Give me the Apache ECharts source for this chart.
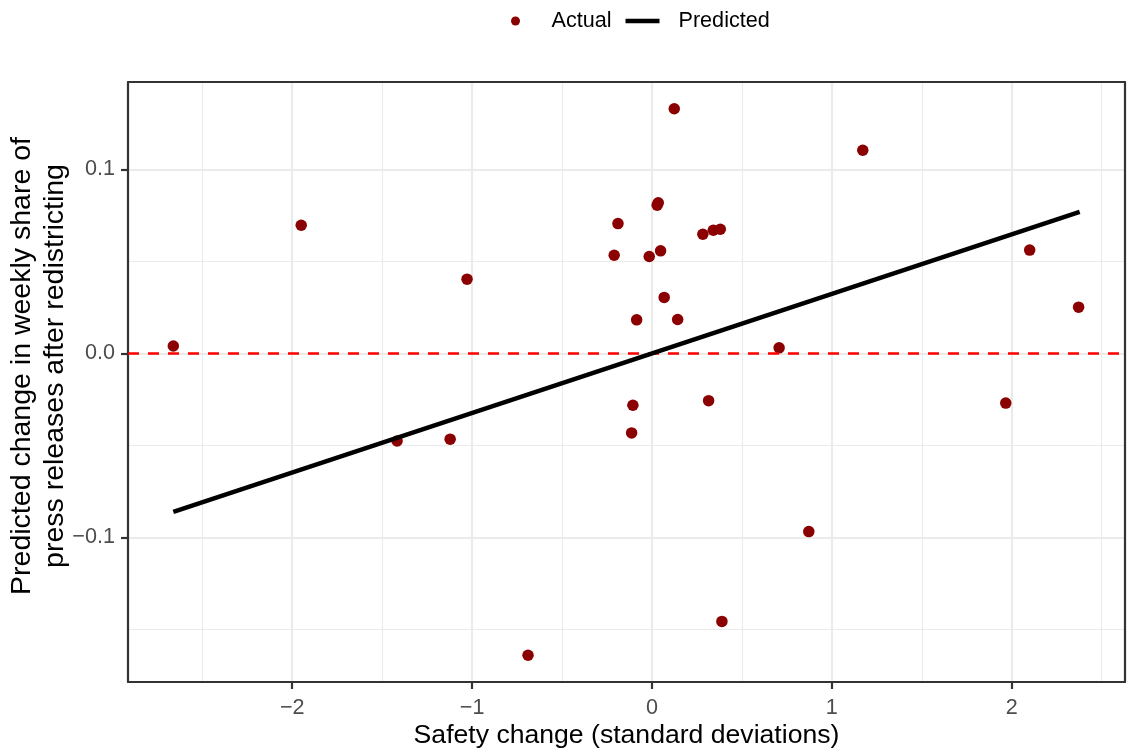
<!DOCTYPE html>
<html>
<head>
<meta charset="utf-8">
<title>Safety change vs predicted change in press releases</title>
<script src="https://cdn.jsdelivr.net/npm/echarts@6/dist/echarts.min.js"></script>
<style>
  html, body { margin: 0; padding: 0; background: #ffffff; }
  #chart { width: 1128px; height: 750px; }
</style>
</head>
<body>
<div id="chart"></div>
<script>
// Observed districts: safety change (SD) and change in weekly share of press releases
const actualX = [-2.661, -1.950, -1.028, -1.417, -1.122, -0.689, -0.210, -0.189, 0.124, 0.029,
                 0.035, 0.283, 0.341, 0.380, -0.015, 0.048, 0.068, -0.085, 0.143, 0.707,
                 -0.106, -0.113, 0.315, 0.872, 0.389, 1.172, 1.967, 2.100, 2.372];
const actualY = [0.0040, 0.0696, 0.0403, -0.0476, -0.0466, -0.1640, 0.0533, 0.0705, 0.1329, 0.0805,
                 0.0818, 0.0647, 0.0669, 0.0674, 0.0526, 0.0557, 0.0304, 0.0182, 0.0184, 0.0030,
                 -0.0282, -0.0432, -0.0257, -0.0968, -0.1456, 0.1103, -0.0270, 0.0561, 0.0251];

// Fitted line, at the smallest and largest safety change
const predictedX = [-2.661, 2.378];
const predictedY = [-0.0861, 0.0768];

// Axis extents and labels
const xRange = [-2.913, 2.630];
const yRange = [-0.1785, 0.1474];
const xTitle = 'Safety change (standard deviations)';
const yTitle = 'Predicted change in weekly share of\npress releases after redistricting';
const seriesNames = ['Actual', 'Predicted'];

const FONT = 'Liberation Sans, Arial, Helvetica, sans-serif';
const MINUS = '\u2212';
const FRAME = { color: '#333333', width: 2.2 };
// thin horizontal bar inside a 34x9 box, used as the legend key of the fitted line
const LINE_KEY = 'path://M0,0 M0,2.25 L34,2.25 L34,6.75 L0,6.75 Z M34,9';

const zip = (xs, ys) => xs.map((x, i) => [x, ys[i]]);
const isStep = (v, step) => Math.abs(v / step - Math.round(v / step)) < 1e-6;

// axis used only to draw one side of the panel frame above the grid lines
const frameAxis = (position, range) => ({
  type: 'value', position, min: range[0], max: range[1], z: 5,
  axisLine: { show: true, onZero: false, lineStyle: FRAME },
  axisTick: { show: false }, axisLabel: { show: false },
  splitLine: { show: false }, minorSplitLine: { show: false }
});

const chart = echarts.init(document.getElementById('chart'), null, { renderer: 'canvas' });

chart.setOption({
  backgroundColor: '#ffffff',
  animation: false,
  textStyle: { fontFamily: FONT },
  legend: {
    left: 506,
    top: 5,
    itemWidth: 34,
    itemHeight: 9,
    itemGap: 14,
    textStyle: { fontFamily: FONT, fontSize: 21.6, color: '#000000', padding: [0, 0, 0, 14] },
    data: [
      { name: seriesNames[0], icon: 'circle' },
      { name: seriesNames[1], icon: LINE_KEY, itemStyle: { color: '#000000' } }
    ]
  },
  grid: {
    left: 128, right: 3, top: 82, bottom: 68,
    containLabel: false,
    outerBoundsMode: 'none',
    show: false
  },
  xAxis: [
    {
      type: 'value',
      position: 'bottom',
      min: xRange[0],
      max: xRange[1],
      splitNumber: 5,
      name: xTitle,
      nameLocation: 'middle',
      nameGap: 40,
      nameMoveOverlap: false,
      nameTextStyle: { fontFamily: FONT, fontSize: 26.6, color: '#000000' },
      axisLine: { show: true, onZero: false, lineStyle: FRAME },
      axisTick: {
        show: true, length: 7,
        interval: (i, v) => isStep(v, 1),
        lineStyle: FRAME
      },
      axisLabel: {
        margin: 15,
        showMinLabel: false,
        showMaxLabel: false,
        fontFamily: FONT, fontSize: 21.6, color: '#4D4D4D',
        formatter: v => String(v).replace('-', MINUS)
      },
      splitLine: {
        show: true,
        interval: (i, v) => isStep(v, 1),
        lineStyle: { color: '#EBEBEB', width: 2.2 }
      },
      minorTick: { show: false, splitNumber: 2 },
      minorSplitLine: { show: true, lineStyle: { color: '#EBEBEB', width: 1.1 } }
    },
    frameAxis('top', xRange)
  ],
  yAxis: [
    {
      type: 'value',
      position: 'left',
      min: yRange[0],
      max: yRange[1],
      splitNumber: 3,
      name: yTitle,
      nameLocation: 'middle',
      nameGap: 56,
      nameMoveOverlap: false,
      nameRotate: 90,
      nameTextStyle: {
        fontFamily: FONT, fontSize: 28.5, color: '#000000', lineHeight: 33, align: 'center',
        padding: [0, 0, 0, 32]
      },
      axisLine: { show: true, onZero: false, lineStyle: FRAME },
      axisTick: {
        show: true, length: 7,
        interval: (i, v) => isStep(v, 0.1),
        lineStyle: FRAME
      },
      axisLabel: {
        margin: 13,
        showMinLabel: false,
        showMaxLabel: false,
        fontFamily: FONT, fontSize: 21.6, color: '#4D4D4D',
        formatter: v => v.toFixed(1).replace('-', MINUS)
      },
      splitLine: {
        show: true,
        interval: (i, v) => isStep(v, 0.1),
        lineStyle: { color: '#EBEBEB', width: 2.2 }
      },
      minorTick: { show: false, splitNumber: 2 },
      minorSplitLine: { show: true, lineStyle: { color: '#EBEBEB', width: 1.1 } }
    },
    frameAxis('right', yRange)
  ],
  series: [
    {
      name: seriesNames[0],
      type: 'scatter',
      xAxisIndex: 0,
      yAxisIndex: 0,
      z: 2,
      symbol: 'circle',
      symbolSize: 11.5,
      itemStyle: { color: '#8B0000', opacity: 1 },
      data: zip(actualX, actualY),
      markLine: {
        silent: true,
        symbol: ['none', 'none'],
        label: { show: false },
        lineStyle: { color: '#FF0000', type: [11, 9], width: 2.5 },
        emphasis: { disabled: true },
        data: [{ yAxis: 0 }]
      }
    },
    {
      name: seriesNames[1],
      type: 'line',
      xAxisIndex: 0,
      yAxisIndex: 0,
      z: 6,
      showSymbol: false,
      symbol: 'none',
      lineStyle: { color: '#000000', width: 4.5 },
      itemStyle: { color: '#000000' },
      data: zip(predictedX, predictedY)
    }
  ]
});
</script>
</body>
</html>
